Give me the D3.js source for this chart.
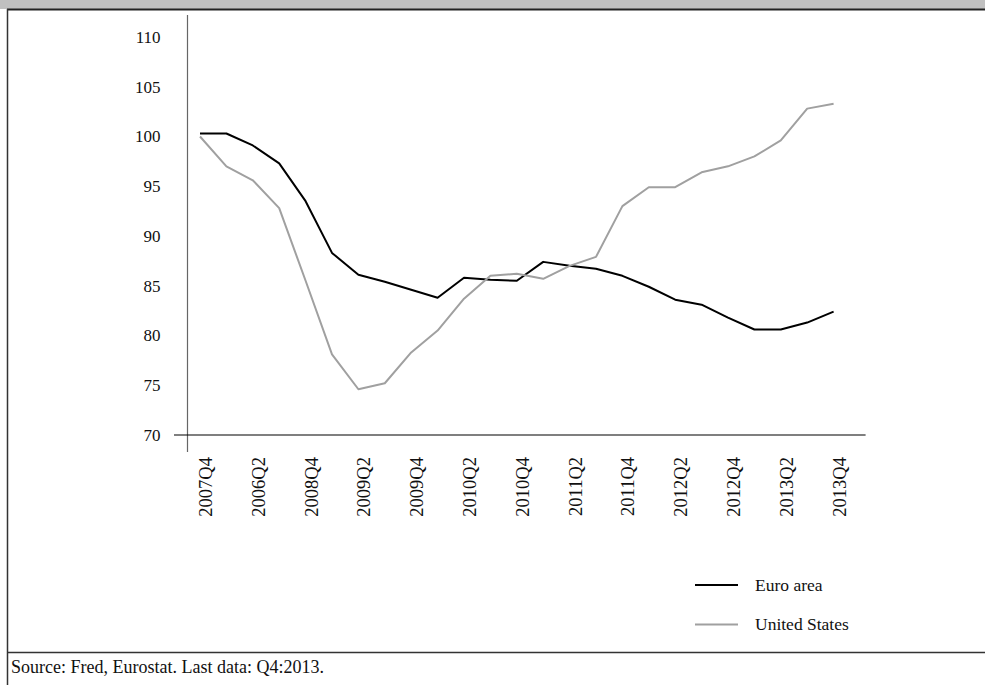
<!DOCTYPE html>
<html>
<head>
<meta charset="utf-8">
<script src="https://cdn.jsdelivr.net/npm/d3@7"></script>
<style>
  body { margin: 0; background: #fff; }
  svg { display: block; font-family: "Liberation Serif", "Times New Roman", serif; }
</style>
</head>
<body>
<script>
// DATA
const quarters = ["2007Q4",
  "2008Q1","2008Q2","2008Q3","2008Q4",
  "2009Q1","2009Q2","2009Q3","2009Q4",
  "2010Q1","2010Q2","2010Q3","2010Q4",
  "2011Q1","2011Q2","2011Q3","2011Q4",
  "2012Q1","2012Q2","2012Q3","2012Q4",
  "2013Q1","2013Q2","2013Q3","2013Q4"];
const euroArea = [100.3, 100.3, 99.1, 97.3, 93.5, 88.3, 86.1, 85.4, 84.6, 83.8,
  85.8, 85.6, 85.5, 87.4, 87.0, 86.7, 86.0, 84.9, 83.6, 83.1,
  81.8, 80.6, 80.6, 81.3, 82.4];
const unitedStates = [100.0, 97.0, 95.6, 92.8, 85.5, 78.1, 74.6, 75.2, 78.3, 80.5,
  83.7, 86.0, 86.2, 85.7, 87.0, 87.9, 93.0, 94.9, 94.9, 96.4,
  97.0, 98.0, 99.6, 102.8, 103.3];
const tickLabels = ["2007Q4","2006Q2","2008Q4","2009Q2","2009Q4","2010Q2","2010Q4",
  "2011Q2","2011Q4","2012Q2","2012Q4","2013Q2","2013Q4"];
const yTicks = [70, 75, 80, 85, 90, 95, 100, 105, 110];
const seriesNames = ["Euro area", "United States"];
const seriesColors = ["#000000", "#a0a0a0"];
const sourceText = "Source: Fred, Eurostat. Last data: Q4:2013.";

const width = 985, height = 685;
const svg = d3.select("body").append("svg")
  .attr("width", width).attr("height", height);

//FRAME
svg.append("rect").attr("x", 0).attr("y", 0).attr("width", width).attr("height", 9)
  .attr("fill", "#c0c0c0");
svg.append("line").attr("x1", 7).attr("x2", width).attr("y1", 9.5).attr("y2", 9.5)
  .attr("stroke", "#222").attr("stroke-width", 2);
svg.append("line").attr("x1", 7.5).attr("x2", 7.5).attr("y1", 9).attr("y2", height)
  .attr("stroke", "#333").attr("stroke-width", 1.5);
svg.append("line").attr("x1", 7).attr("x2", width).attr("y1", 652.5).attr("y2", 652.5)
  .attr("stroke", "#333").attr("stroke-width", 1.5);

//SCALES
const x = d3.scalePoint().domain(quarters).range([200, 833.6]);
const y = d3.scaleLinear().domain([70, 110]).range([435, 37]);
const axisX = 187.5;

//Y AXIS
const yAxis = svg.append("g")
  .attr("transform", `translate(${axisX},0)`)
  .call(d3.axisLeft(y).tickValues(yTicks).tickSize(0).tickPadding(27));
yAxis.select(".domain").remove();
yAxis.selectAll("text").attr("font-size", 17).attr("fill", "#111")
  .attr("font-family", "Liberation Serif, serif");
svg.append("line").attr("x1", axisX).attr("x2", axisX).attr("y1", 15).attr("y2", 452)
  .attr("stroke", "#666").attr("stroke-width", 1.2);

//X AXIS
const shown = quarters.filter((d, i) => i % 2 === 0);
const xAxis = svg.append("g")
  .attr("transform", `translate(0,${y(70)})`)
  .call(d3.axisBottom(x).tickValues(shown).tickSize(0)
    .tickFormat((d, i) => tickLabels[i]));
xAxis.select(".domain").remove();
xAxis.selectAll("text")
  .attr("font-size", 18.5).attr("fill", "#111")
  .attr("font-family", "Liberation Serif, serif")
  .attr("text-anchor", "end")
  .attr("transform", "translate(5,22) rotate(-90)")
  .attr("x", 0).attr("y", 0).attr("dy", "0.35em");
svg.append("line")
  .attr("x1", x(quarters[0]) - 26).attr("x2", x(quarters[quarters.length - 1]) + 32)
  .attr("y1", y(70)).attr("y2", y(70))
  .attr("stroke", "#000").attr("stroke-width", 1.2);

//LINES
const series = [euroArea, unitedStates];
const line = d3.line().x((d, i) => x(quarters[i])).y(d => y(d));
svg.selectAll(".series").data(series).join("path").classed("series", true)
  .attr("fill", "none")
  .attr("stroke", (d, i) => seriesColors[i])
  .attr("stroke-width", 2)
  .attr("stroke-linejoin", "round")
  .attr("d", d => line(d));

//LEGEND
const legend = svg.append("g").attr("transform", "translate(695,585)");
const item = legend.selectAll("g").data(seriesNames).join("g")
  .attr("transform", (d, i) => `translate(0,${i * 39.5})`);
item.append("line").attr("x1", 0).attr("x2", 43).attr("y1", 0).attr("y2", 0)
  .attr("stroke", (d, i) => seriesColors[i]).attr("stroke-width", 2);
item.append("text").attr("x", 60).attr("y", 0).attr("dy", "0.32em")
  .attr("font-size", 17.5).attr("fill", "#111").text(d => d);

//SOURCE
svg.append("text").attr("x", 11).attr("y", 673)
  .attr("font-size", 18).attr("fill", "#111").text(sourceText);
</script>
</body>
</html>
